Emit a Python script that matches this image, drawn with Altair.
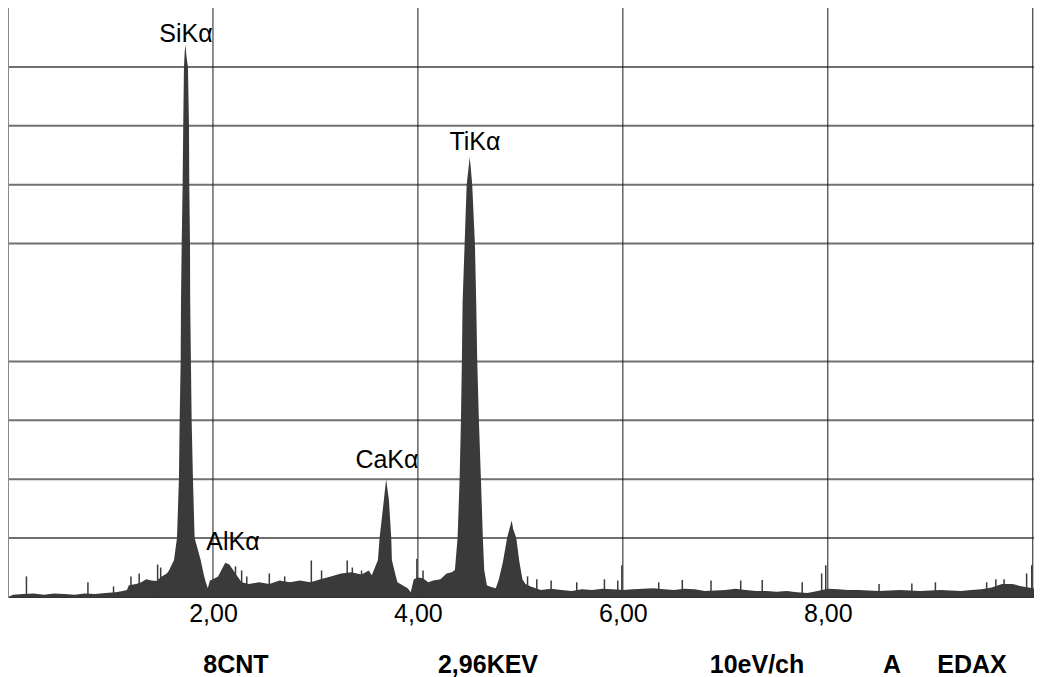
import altair as alt
import pandas as pd

# ---- spectrum (energy in keV, height in grid divisions) ----
energy = [0.00, 0.05, 0.15, 0.25, 0.35, 0.45, 0.55, 0.65, 0.75, 0.85, 0.95, 1.05, 1.12, 1.16,
          1.18, 1.25, 1.30, 1.35, 1.40, 1.45, 1.50, 1.55,
          1.571, 1.620, 1.649, 1.668, 1.675, 1.685, 1.688, 1.695, 1.704, 1.710, 1.717, 1.724,
          1.732, 1.740, 1.756, 1.766, 1.769, 1.776, 1.778, 1.785, 1.792, 1.805, 1.821, 1.880, 1.912,
          1.93, 1.95, 1.97, 2.00, 2.05, 2.08, 2.12, 2.16, 2.20, 2.24, 2.28, 2.35, 2.45, 2.55, 2.65,
          2.75, 2.85, 2.95, 3.05, 3.15, 3.25, 3.35, 3.45, 3.52, 3.55,
          3.61, 3.626, 3.668, 3.69, 3.717, 3.74, 3.746, 3.782,
          3.80, 3.85, 3.90, 3.93, 3.96, 4.00, 4.05, 4.10, 4.15, 4.22, 4.28, 4.33,
          4.361, 4.387, 4.407, 4.420, 4.429, 4.436, 4.456, 4.476, 4.495, 4.505, 4.515, 4.530,
          4.556, 4.569, 4.579, 4.595, 4.615, 4.634, 4.647, 4.673,
          4.70, 4.76, 4.79, 4.83, 4.87, 4.90, 4.915, 4.93, 4.96, 4.99, 5.02,
          5.05, 5.10, 5.20, 5.30, 5.40, 5.50, 5.60, 5.70, 5.80, 5.90, 6.00, 6.10, 6.20, 6.30,
          6.40, 6.50, 6.60, 6.70, 6.80, 6.90, 7.00, 7.10, 7.20, 7.30, 7.40, 7.50, 7.60, 7.70,
          7.80, 7.90, 8.00, 8.10, 8.20, 8.30, 8.40, 8.50, 8.60, 8.70, 8.80, 8.90, 9.00, 9.10,
          9.20, 9.30, 9.40, 9.50, 9.60, 9.70, 9.80, 9.90, 10.00, 10.09]
counts = [0.00, 0.04, 0.05, 0.06, 0.04, 0.06, 0.05, 0.04, 0.06, 0.05, 0.07, 0.08, 0.10, 0.12,
          0.20, 0.22, 0.25, 0.30, 0.28, 0.27, 0.35, 0.40,
          0.45, 0.63, 1.00, 2.00, 3.00, 4.00, 5.00, 6.00, 7.00, 8.00, 9.00, 9.25,
          9.38, 9.20, 9.00, 8.00, 7.00, 6.00, 5.00, 4.00, 3.00, 2.00, 1.00, 0.63, 0.37,
          0.25, 0.15, 0.28, 0.30, 0.35, 0.45, 0.58, 0.55, 0.45, 0.35, 0.25, 0.22, 0.25, 0.22, 0.28,
          0.25, 0.28, 0.25, 0.30, 0.35, 0.40, 0.42, 0.38, 0.45, 0.37,
          0.63, 1.00, 1.65, 2.00, 1.65, 1.00, 0.63, 0.37,
          0.25, 0.20, 0.15, 0.08, 0.30, 0.33, 0.32, 0.25, 0.28, 0.30, 0.40, 0.42,
          0.46, 1.00, 2.00, 3.00, 4.00, 5.00, 6.00, 7.00, 7.30, 7.47, 7.30, 7.00,
          6.00, 5.00, 4.00, 3.00, 2.00, 1.00, 0.46, 0.20,
          0.18, 0.15, 0.30, 0.60, 1.00, 1.20, 1.30, 1.15, 1.00, 0.60, 0.30,
          0.22, 0.18, 0.12, 0.14, 0.12, 0.10, 0.13, 0.12, 0.14, 0.13, 0.12, 0.13, 0.14, 0.15,
          0.13, 0.12, 0.14, 0.13, 0.10, 0.11, 0.12, 0.14, 0.12, 0.10, 0.10, 0.09, 0.10, 0.08,
          0.07, 0.10, 0.14, 0.13, 0.12, 0.12, 0.11, 0.10, 0.11, 0.12, 0.11, 0.10, 0.11, 0.12,
          0.11, 0.10, 0.12, 0.13, 0.16, 0.22, 0.22, 0.18, 0.15, 0.12]

# isolated single-channel spikes
spike_energy = [0.18, 0.78, 1.03, 1.20, 1.28, 1.46, 1.49, 2.22, 2.28, 2.33, 2.55, 2.70, 2.96,
                3.06, 3.31, 3.36, 3.45, 3.99, 4.05, 5.07, 5.16, 5.30, 5.55, 5.82, 5.95, 5.99,
                6.35, 6.58, 6.86, 7.15, 7.36, 7.75, 7.94, 7.98, 8.50, 8.82, 9.05, 9.55, 9.64,
                9.72, 9.94, 9.99]
spike_height = [0.35, 0.25, 0.18, 0.35, 0.40, 0.55, 0.50, 0.52, 0.45, 0.35, 0.40, 0.35, 0.62,
                0.45, 0.62, 0.50, 0.45, 0.65, 0.45, 0.35, 0.30, 0.28, 0.25, 0.30, 0.28, 0.54,
                0.25, 0.29, 0.28, 0.28, 0.29, 0.25, 0.40, 0.54, 0.22, 0.23, 0.25, 0.25, 0.30,
                0.30, 0.40, 0.54]

# peak labels
peak_names = ["SiKα", "AlKα", "CaKα", "TiKα"]
peak_label_energy = [1.737, 2.196, 3.698, 4.557]
peak_label_height = [9.42, 0.80, 2.19, 7.59]

# grid and tick values
x_tick_values = [2, 4, 6, 8]
x_grid_values = [2, 4, 6, 8, 10]
x_border_values = [0]
y_grid_values = [1, 2, 3, 4, 6, 7, 8, 9]

# footer texts
footer_texts = ["8CNT", "2,96KEV", "10eV/ch", "A", "EDAX"]
footer_px = [228, 480, 749, 884, 964]

FONT = "Liberation Sans"
W, H = 1026, 589

xscale = alt.Scale(domain=[0, 10.012], nice=False, zero=False)
yscale = alt.Scale(domain=[0, 10], nice=False)

xaxis = alt.Axis(
    values=x_tick_values,
    labelExpr="replace(format(datum.value, '.2f'), '.', ',')",
    ticks=False,
    domain=True,
    domainColor="#333333",
    domainWidth=1,
    grid=False,
    title=None,
    labelFont=FONT,
    labelFontSize=25,
    labelColor="black",
    labelPadding=4,
)

spec = pd.DataFrame({"E": energy, "C": counts})
spikes = pd.DataFrame({"E": spike_energy, "C": spike_height})
labels = pd.DataFrame({"name": peak_names, "E": peak_label_energy, "C": peak_label_height})
vgrid = pd.DataFrame({"E": x_grid_values})
border = pd.DataFrame({"E": x_border_values})
hgrid = pd.DataFrame({"C": y_grid_values})
footer = pd.DataFrame({"t": footer_texts, "px": footer_px})

hgrid_layer = alt.Chart(hgrid).mark_rule(color="#707070", strokeWidth=2).encode(
    y=alt.Y("C:Q", scale=yscale, axis=None)
)
vgrid_layer = alt.Chart(vgrid).mark_rule(color="#1a1a1a", strokeWidth=1).encode(
    x=alt.X("E:Q", scale=xscale, axis=xaxis)
)
left_border = alt.Chart(border).mark_rule(color="#8a8a8a", strokeWidth=2).encode(
    x=alt.X("E:Q", scale=xscale, axis=xaxis)
)

area_layer = alt.Chart(spec).mark_area(color="#3a3a3a", interpolate="linear").encode(
    x=alt.X("E:Q", scale=xscale, axis=xaxis),
    y=alt.Y("C:Q", scale=yscale, axis=None),
)

spike_layer = alt.Chart(spikes).mark_rule(color="#3a3a3a", strokeWidth=1.5).encode(
    x=alt.X("E:Q", scale=xscale, axis=xaxis),
    y=alt.Y("C:Q", scale=yscale, axis=None),
    y2=alt.datum(0),
)

label_layer = alt.Chart(labels).mark_text(
    font=FONT, fontSize=25, color="black", baseline="alphabetic", align="center"
).encode(
    x=alt.X("E:Q", scale=xscale, axis=xaxis),
    y=alt.Y("C:Q", scale=yscale, axis=None),
    text="name:N",
)

footer_layer = alt.Chart(footer).mark_text(
    font=FONT, fontSize=25, fontWeight="bold", color="black", baseline="middle", align="center"
).encode(
    x=alt.X("px:Q", scale=None),
    y=alt.value(657),
    text="t:N",
)

chart = (
    alt.layer(hgrid_layer, vgrid_layer, left_border, area_layer, spike_layer, label_layer, footer_layer)
    .properties(
        width=W,
        height=H,
        autosize=alt.AutoSizeParams(type="none"),
        padding={"left": 0, "top": 0, "right": 0, "bottom": 80},
        background="white",
    )
    .configure_view(stroke=None)
)

chart.save("out.html", embed_options={"renderer": "svg", "actions": False})
